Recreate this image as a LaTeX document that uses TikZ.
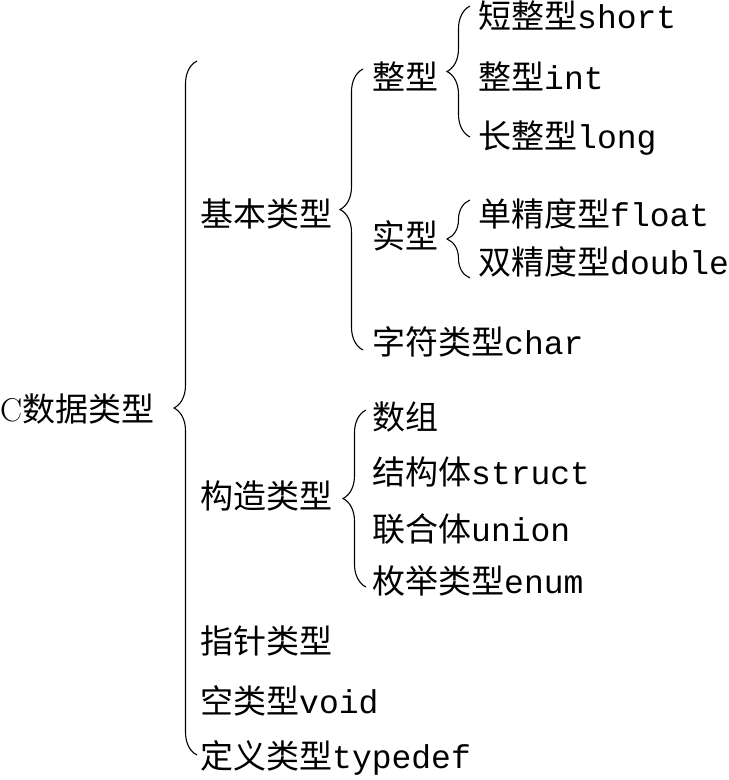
\documentclass[tikz,border=0pt]{standalone}
\usepackage{fontspec}
\newfontfamily\zhfont{Noto Sans CJK SC}
\newfontfamily\kwfont{Liberation Mono}
\usetikzlibrary{decorations.pathreplacing}
\newcommand{\zh}[1]{{\zhfont #1}}
\newcommand{\kw}[1]{{\kwfont #1}}

\begin{document}
\begin{tikzpicture}[x=1pt, y=-1pt,
    item/.style={anchor=west, inner sep=0pt, font=\fontsize{33}{40}\selectfont,
                 text height=27pt, text depth=4pt},
    brace/.style={decorate, decoration={brace, amplitude=23pt}, line width=1.1pt}]
  \useasboundingbox (0,0) rectangle (729,780);

  \node (root) [item] at (0,410) {C\zh{数据类型}};

  \node (base) [item] at (200,215) {\zh{基本类型}};
  \node (cons) [item] at (200,497) {\zh{构造类型}};
  \node (ptr)  [item] at (200,642) {\zh{指针类型}};
  \node (void) [item] at (200,702) {\zh{空类型}\kw{void}};
  \node (tdef) [item] at (200,757) {\zh{定义类型}\kw{typedef}};

  \node (intg) [item] at (372,78)  {\zh{整型}};
  \node (real) [item] at (372,237) {\zh{实型}};
  \node (chr)  [item] at (372,343) {\zh{字符类型}\kw{char}};

  \node (short) [item] at (478,17)  {\zh{短整型}\kw{short}};
  \node (int)   [item] at (478,78)  {\zh{整型}\kw{int}};
  \node (long)  [item] at (478,137) {\zh{长整型}\kw{long}};
  \node (flt)   [item] at (478,215) {\zh{单精度型}\kw{float}};
  \node (dbl)   [item] at (478,263) {\zh{双精度型}\kw{double}};

  \node (arr)  [item] at (372,418) {\zh{数组}};
  \node (strc) [item] at (372,473) {\zh{结构体}\kw{struct}};
  \node (uni)  [item] at (372,530) {\zh{联合体}\kw{union}};
  \node (enm)  [item] at (372,582) {\zh{枚举类型}\kw{enum}};

  % brace ends
  \coordinate (b0t) at (197,61);  \coordinate (b0b) at (197,755);
  \coordinate (b1t) at (363,69);  \coordinate (b1b) at (363,350);
  \coordinate (b2t) at (470,6);   \coordinate (b2b) at (470,137);
  \coordinate (b3t) at (470,200); \coordinate (b3b) at (470,278);
  \coordinate (b4t) at (366,410); \coordinate (b4b) at (366,587);

  \draw [brace] (b0b) -- (b0t);
  \draw [brace] (b1b) -- (b1t);
  \draw [brace] (b2b) -- (b2t);
  \draw [brace] (b3b) -- (b3t);
  \draw [brace] (b4b) -- (b4t);
\end{tikzpicture}
\end{document}
